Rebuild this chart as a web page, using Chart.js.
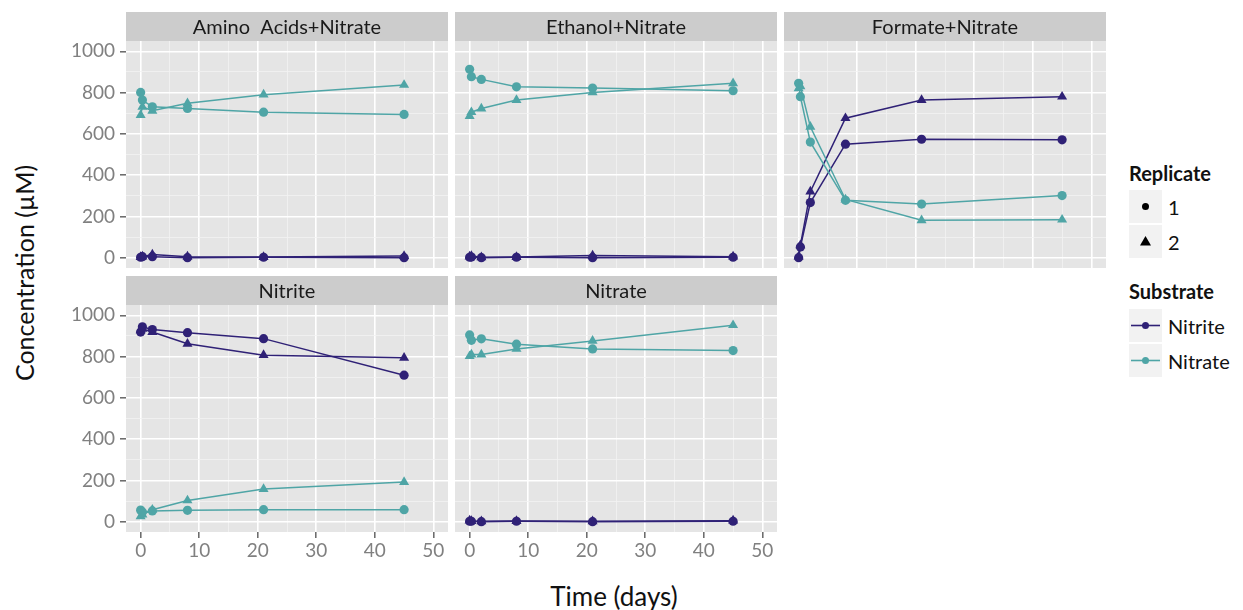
<!DOCTYPE html>
<html>
<head>
<meta charset="utf-8">
<script src="https://cdn.jsdelivr.net/npm/chart.js@4/dist/chart.umd.min.js"></script>
<style>
  body { margin: 0; background: #fff; font-family: Lato, sans-serif; }
  #wrap { position: relative; width: 1243px; height: 610px; overflow: hidden; }
  .panel { position: absolute; }
  .axis-title { position: absolute; font-size: 25px; color: #111; white-space: nowrap; }
  #ytitle { left: 24px; top: 273px; transform: translate(-50%, -50%) rotate(-90deg); }
  #xtitle { left: 614px; top: 596px; transform: translate(-50%, -50%); font-size: 26px; }
  .leg-title { position: absolute; left: 1129px; font-size: 20px; font-weight: bold; color: #111; }
  .leg-key { position: absolute; left: 1129px; width: 33px; height: 33px; background: #f2f2f2; }
  .leg-key svg { display: block; }
  .leg-label { position: absolute; left: 1168px; font-size: 20px; color: #111; transform: translateY(-50%); }
</style>
</head>
<body>
<div id="wrap">
  <div id="ytitle" class="axis-title">Concentration (µM)</div>
  <div id="xtitle" class="axis-title">Time (days)</div>

  <div class="leg-title" style="top:161px">Replicate</div>
  <div class="leg-key" style="top:190px"><svg width="33" height="33"><circle cx="16.5" cy="16.5" r="3.5" fill="#000"/></svg></div>
  <div class="leg-key" style="top:225px"><svg width="33" height="33"><polygon points="16.5,11 22,20.5 11,20.5" fill="#000"/></svg></div>
  <div class="leg-label" style="top:207px">1</div>
  <div class="leg-label" style="top:242px">2</div>

  <div class="leg-title" style="top:279px">Substrate</div>
  <div class="leg-key" style="top:309px"><svg width="33" height="33"><line x1="2" y1="16.5" x2="31" y2="16.5" stroke="#2f2176" stroke-width="1.6"/><circle cx="16.5" cy="16.5" r="3.5" fill="#2f2176"/></svg></div>
  <div class="leg-key" style="top:344px"><svg width="33" height="33"><line x1="2" y1="16.5" x2="31" y2="16.5" stroke="#4fa5a6" stroke-width="1.6"/><circle cx="16.5" cy="16.5" r="3.5" fill="#4fa5a6"/></svg></div>
  <div class="leg-label" style="top:326px">Nitrite</div>
  <div class="leg-label" style="top:361px">Nitrate</div>
</div>

<script>
// sampling times (days)
const time = [0, 0.3, 2, 8, 21, 45];

const panelTitles = ['Amino  Acids+Nitrate', 'Ethanol+Nitrate', 'Formate+Nitrate', 'Nitrite', 'Nitrate'];
const xTicks = [0, 10, 20, 30, 40, 50];
const yTicks = [0, 200, 400, 600, 800, 1000];

// concentrations (µM), replicate 1 / 2
const aminoNitrite1 = [2, 5, 5, 0, 2, 0];
const aminoNitrite2 = [3, 5, 15, 5, 3, 8];
const aminoNitrate1 = [801, 764, 731, 723, 705, 694];
const aminoNitrate2 = [691, 731, 712, 748, 790, 837];

const ethanolNitrite1 = [2, 3, 0, 2, 0, 2];
const ethanolNitrite2 = [5, 8, 2, 3, 10, 5];
const ethanolNitrate1 = [913, 877, 864, 828, 822, 809];
const ethanolNitrate2 = [686, 705, 723, 764, 801, 845];

const formateNitrite1 = [0, 52, 267, 550, 574, 571];
const formateNitrite2 = [5, 60, 320, 676, 764, 780];
const formateNitrate1 = [845, 780, 560, 278, 260, 301];
const formateNitrate2 = [820, 830, 634, 282, 181, 184];

const nitriteNitrite1 = [919, 944, 931, 916, 887, 710];
const nitriteNitrite2 = [927, 935, 919, 862, 807, 794];
const nitriteNitrate1 = [56, 47, 52, 55, 58, 58];
const nitriteNitrate2 = [26, 34, 58, 103, 158, 192];

const nitrateNitrite1 = [2, 2, 0, 2, 0, 2];
const nitrateNitrite2 = [5, 3, 2, 3, 2, 5];
const nitrateNitrate1 = [905, 879, 886, 860, 837, 829];
const nitrateNitrate2 = [802, 810, 810, 837, 876, 952];

const panelSeries = [
    [aminoNitrite1, aminoNitrite2, aminoNitrate1, aminoNitrate2],
    [ethanolNitrite1, ethanolNitrite2, ethanolNitrate1, ethanolNitrate2],
    [formateNitrite1, formateNitrite2, formateNitrate1, formateNitrate2],
    [nitriteNitrite1, nitriteNitrite2, nitriteNitrate1, nitriteNitrate2],
    [nitrateNitrite1, nitrateNitrite2, nitrateNitrate1, nitrateNitrate2]
];

const NITRITE = '#2f2176', NITRATE = '#4fa5a6';
const FONT = 'Lato, sans-serif';

// facet layout
const colLeft = [126, 455, 784];
const rowTop  = [12, 276];
const PW = 322, PH = 227, STRIP = 29, YAXIS = 80, XAXIS = 34;

// strip + grey panel background
const facetPlugin = {
    id: 'facet',
    beforeDraw(chart, args, opts) {
        const { ctx, chartArea: a } = chart;
        ctx.save();
        ctx.fillStyle = '#e5e5e5';
        ctx.fillRect(a.left, a.top, a.right - a.left, a.bottom - a.top);
        ctx.fillStyle = '#cccccc';
        ctx.fillRect(a.left, a.top - STRIP, a.right - a.left, STRIP);
        ctx.restore();
    },
    afterDraw(chart, args, opts) {
        const { ctx, chartArea: a } = chart;
        ctx.save();
        ctx.fillStyle = '#1a1a1a';
        ctx.font = '20px ' + FONT;
        ctx.textAlign = 'center';
        ctx.textBaseline = 'middle';
        ctx.fillText(opts.title, (a.left + a.right) / 2, a.top - STRIP / 2 + 1);
        ctx.restore();
    }
};

function toXY(vals) { return vals.map((v, i) => ({ x: time[i], y: v })); }

function makeSeries(vals, color, shape) {
    return {
        data: toXY(vals),
        borderColor: color,
        backgroundColor: color,
        borderWidth: 1.5,
        pointStyle: shape,
        pointRadius: shape === 'triangle' ? 5.8 : 4.6,
        pointBorderWidth: 0,
        tension: 0
    };
}

function axisCommon(show, size, major, minor, min, max) {
    return {
        type: 'linear', min, max,
        border: { display: false },
        afterBuildTicks: s => { s.ticks = minor.map(v => ({ value: v })); },
        afterFit: s => {
            if (s.isHorizontal()) s.height = size; else s.width = size;
            // labels may overhang the panel; don't let them shrink it
            s.paddingTop = s.paddingBottom = s.paddingLeft = s.paddingRight = 0;
        },
        grid: {
            color: c => major.includes(c.tick.value) ? '#ffffff' : '#f2f2f2',
            lineWidth: c => major.includes(c.tick.value) ? 1.6 : 0.8,
            drawTicks: show,
            tickLength: 6,
            tickWidth: 1.5,
            tickColor: c => major.includes(c.tick.value) ? '#666666' : 'rgba(0,0,0,0)'
        },
        ticks: {
            display: show,
            autoSkip: false,
            maxRotation: 0,
            color: '#808080',
            font: { family: FONT, size: 19 },
            callback: v => major.includes(v) ? String(v) : ''
        }
    };
}

const xMinor = [0, 5, 10, 15, 20, 25, 30, 35, 40, 45, 50];
const yMinor = [0, 100, 200, 300, 400, 500, 600, 700, 800, 900, 1000];

panelTitles.forEach((title, i) => {
    const col = i % 3, row = Math.floor(i / 3);
    const showY = col === 0;
    const showX = row === 1;
    const padL = showY ? YAXIS : 0;

    const box = document.createElement('div');
    box.className = 'panel';
    box.style.left = (colLeft[col] - padL) + 'px';
    box.style.top = rowTop[row] + 'px';
    const cv = document.createElement('canvas');
    cv.width = padL + PW;
    cv.height = STRIP + PH + (showX ? XAXIS : 0);
    box.appendChild(cv);
    document.getElementById('wrap').appendChild(box);

    const [n1, n2, t1, t2] = panelSeries[i];
    const xs = axisCommon(showX, showX ? XAXIS : 0, xTicks, xMinor, -2.5, 52.5);
    xs.ticks.padding = 1;
    const ys = axisCommon(showY, showY ? YAXIS : 0, yTicks, yMinor, -50, 1050);
    ys.ticks.padding = 5;

    new Chart(cv, {
        type: 'line',
        data: {
            datasets: [
                makeSeries(t1, NITRATE, 'circle'),
                makeSeries(t2, NITRATE, 'triangle'),
                makeSeries(n1, NITRITE, 'circle'),
                makeSeries(n2, NITRITE, 'triangle')
            ]
        },
        options: {
            responsive: false,
            animation: false,
            devicePixelRatio: 1,
            layout: { padding: { top: STRIP, left: 0, right: 0, bottom: 0 }, autoPadding: false },
            scales: { x: xs, y: ys },
            plugins: {
                legend: { display: false },
                tooltip: { enabled: false },
                facet: { title }
            }
        },
        plugins: [facetPlugin]
    });
});
</script>
</body>
</html>
